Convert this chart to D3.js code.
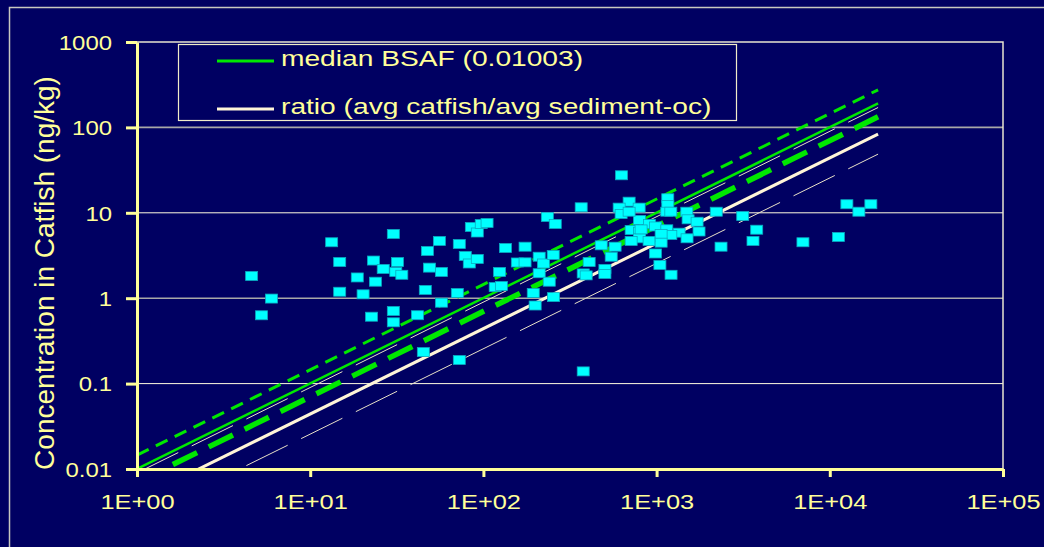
<!DOCTYPE html>
<html>
<head>
<meta charset="utf-8">
<script src="https://cdn.jsdelivr.net/npm/d3@7"></script>
<style>
  body { margin: 0; background: #000062; }
  svg text { font-family: "Liberation Sans", Arial, sans-serif; fill: #ffff99; }
</style>
</head>
<body>
<svg id="chart" width="1044" height="547"></svg>
<script>
// sediment-oc concentration (x) and catfish concentration (y), ng/kg
const sedimentOc = [4.59, 5.98, 5.24, 13.3, 14.8, 14.8, 18.7, 20.2, 22.6, 23.2,
    23.8, 26.4, 30.2, 31.9, 31.2, 33.8, 30.2, 30.2, 41.6, 46.2,
    47.5, 48.8, 55.7, 57.2, 57.2, 45.0, 72.6, 78.6, 82.9, 92.2,
    70.7, 72.6, 85.2, 92.2, 97.2, 105, 124, 117, 127, 134,
    157, 174, 174, 210, 222, 210, 240, 194, 199, 254,
    234, 260, 253, 367, 408, 377, 392, 377, 479, 576,
    547, 503, 503, 627, 694, 608, 793, 624, 796, 909,
    713, 796, 985, 796, 713, 905, 985, 1045, 1160, 1160,
    1145, 1208, 1494, 2210, 3142, 1520, 1713, 1145, 1758, 3784,
    1349, 1208, 1062, 1062, 1499, 3602, 6997, 2355, 1212, 694,
    814, 12550, 17260, 14720, 11210];
const catfish = [1.82, 0.99, 0.631, 4.52, 2.65, 1.19, 1.75, 1.11, 0.607, 2.76,
    1.56, 2.20, 5.65, 2.65, 2.03, 1.88, 0.708, 0.522, 0.632, 1.25,
    3.57, 2.28, 4.68, 2.03, 0.886, 0.234, 4.31, 3.12, 2.55, 2.88,
    1.15, 0.189, 6.82, 5.88, 7.39, 7.60, 2.03, 1.35, 1.39, 3.87,
    2.62, 2.63, 4.01, 3.06, 2.55, 1.96, 1.56, 1.15, 0.821, 1.03,
    8.93, 7.39, 3.21, 11.6, 2.65, 1.95, 1.85, 0.139, 4.16, 4.01,
    3.06, 2.20, 1.92, 27.5, 13.5, 11.5, 11.5, 9.68, 8.24, 7.39,
    6.29, 6.01, 6.92, 5.03, 4.68, 4.68, 3.34, 2.45, 14.8, 12.3,
    10.3, 10.3, 10.3, 10.3, 9.17, 8.39, 7.86, 6.41, 6.04, 6.34,
    5.85, 5.50, 5.65, 4.47, 5.03, 4.68, 4.52, 4.01, 1.88, 10.3,
    6.39, 12.6, 12.6, 10.3, 5.21];

// fitted lines: catfish = factor * sediment-oc
const lineFactors = [0.0145, 0.01003, 0.0070, 0.0090, 0.0044, 0.00256];
const lineEnd = 19000;

const legendLabels = ["median BSAF (0.01003)", "ratio (avg catfish/avg sediment-oc)"];

const xTicks = [1, 10, 100, 1000, 10000, 100000];
const xTickLabels = ["1E+00", "1E+01", "1E+02", "1E+03", "1E+04", "1E+05"];
const yTicks = [0.01, 0.1, 1, 10, 100, 1000];
const yTickLabels = ["0.01", "0.1", "1", "10", "100", "1000"];
const gridValues = [0.1, 1, 10, 100];

const svg = d3.select("#chart");
const plotLeft = 137, plotRight = 1003, plotTop = 42, plotBottom = 469;

const x = d3.scaleLog().domain([1, 1e5]).range([plotLeft, plotRight]);
const y = d3.scaleLog().domain([0.01, 1000]).range([plotBottom, plotTop]);

svg.append("rect").attr("width", 1044).attr("height", 547).attr("fill", "#000062");

// outer frame
svg.append("rect")
    .attr("x", 9.5).attr("y", 7.5).attr("width", 1100).attr("height", 600)
    .attr("fill", "none").attr("stroke", "#c8c8c0").attr("stroke-width", 1.5);

// gridlines (alternate look like the source picture)
svg.append("g").selectAll("line")
    .data(gridValues)
    .join("line")
    .attr("x1", plotLeft).attr("x2", plotRight)
    .attr("y1", d => y(d)).attr("y2", d => y(d))
    .attr("stroke", (d, i) => i % 2 == 0 ? "#fffbe0" : "#a8a8a8")
    .attr("stroke-width", (d, i) => i % 2 == 0 ? 1 : 1.6);

// top and right plot border
svg.append("path")
    .attr("d", `M${plotLeft},${plotTop}H${plotRight}V${plotBottom}`)
    .attr("fill", "none").attr("stroke", "#e8e4d0").attr("stroke-width", 1.5);

svg.append("clipPath").attr("id", "plotClip")
    .append("rect").attr("x", plotLeft).attr("y", plotTop)
    .attr("width", plotRight - plotLeft).attr("height", plotBottom - plotTop);

// line styles, same order as lineFactors
const lineStyles = [
    {color: "#00e800", width: 3, dash: "13,8"},
    {color: "#00e800", width: 2.5, dash: null},
    {color: "#00e800", width: 5.5, dash: "27,13"},
    {color: "#e8e0c8", width: 1, dash: "46,15"},
    {color: "#fff5d8", width: 3, dash: null},
    {color: "#e8e0c8", width: 1, dash: "46,15"}
];

const line = d3.line().x(d => x(d[0])).y(d => y(d[1]));

svg.append("g").attr("clip-path", "url(#plotClip)")
    .selectAll("path")
    .data(lineFactors)
    .join("path")
    .attr("d", k => line([[1, k], [lineEnd, k * lineEnd]]))
    .attr("fill", "none")
    .attr("stroke", (k, i) => lineStyles[i].color)
    .attr("stroke-width", (k, i) => lineStyles[i].width)
    .attr("stroke-dasharray", (k, i) => lineStyles[i].dash);

// data points
svg.append("g").selectAll("rect")
    .data(sedimentOc)
    .join("rect")
    .attr("x", d => x(d) - 6)
    .attr("y", (d, i) => y(catfish[i]) - 4.5)
    .attr("width", 12).attr("height", 9)
    .attr("fill", "#00ffff")
    .attr("stroke", "#0aa8c0").attr("stroke-width", 0.8);

// y axis
const yAxis = svg.append("g")
    .attr("transform", `translate(${plotLeft},0)`)
    .call(d3.axisLeft(y).tickValues(yTicks).tickFormat((d, i) => yTickLabels[i])
        .tickSize(11).tickSizeOuter(0));
yAxis.selectAll("text")
    .attr("x", 0).attr("dy", "0.35em")
    .attr("transform", "translate(-25,0) scale(1.14,1)")
    .style("font-size", "21px");

// x axis
const xAxis = svg.append("g")
    .attr("transform", `translate(0,${plotBottom})`)
    .call(d3.axisBottom(x).tickValues(xTicks).tickFormat((d, i) => xTickLabels[i])
        .tickSize(8).tickSizeOuter(0));
xAxis.selectAll("text")
    .attr("y", 40).attr("dy", 0)
    .attr("transform", "scale(1.27,1)")
    .style("font-size", "20px");

svg.selectAll(".domain, .tick line")
    .attr("stroke", "#ffff99").attr("stroke-width", 3);
svg.selectAll(".tick text").attr("fill", "#ffff99");

// axis title
svg.append("text")
    .attr("transform", "translate(54,273) rotate(-90)")
    .attr("text-anchor", "middle")
    .style("font-size", "28px")
    .text("Concentration in Catfish (ng/kg)");

// legend
const legend = svg.append("g");
legend.append("rect")
    .attr("x", 178.5).attr("y", 44.5).attr("width", 558).attr("height", 76)
    .attr("fill", "#000062").attr("stroke", "#f0ecc8").attr("stroke-width", 1.2);

const legendColors = ["#00e800", "#fff5d8"];
const legendRows = [61, 109];

legend.selectAll("line")
    .data(legendLabels)
    .join("line")
    .attr("x1", 217).attr("x2", 274)
    .attr("y1", (d, i) => legendRows[i]).attr("y2", (d, i) => legendRows[i])
    .attr("stroke", (d, i) => legendColors[i]).attr("stroke-width", 3);

legend.selectAll("text")
    .data(legendLabels)
    .join("text")
    .attr("transform", (d, i) => `translate(281,${legendRows[i] + 5}) scale(1.31,1)`)
    .style("font-size", "21.5px")
    .text(d => d);
</script>
</body>
</html>
